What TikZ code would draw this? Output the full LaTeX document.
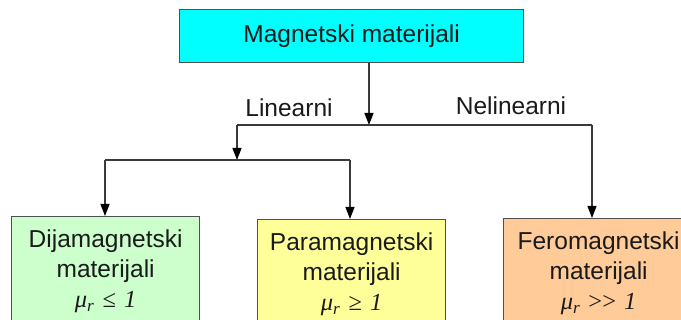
\documentclass[tikz,border=0pt]{standalone}
\usepackage{fontspec}
\setmainfont{Liberation Sans}
\newfontfamily\tms{Liberation Serif}
\usetikzlibrary{arrows.meta}
\definecolor{topcyan}{HTML}{00FFFF}
\definecolor{diagreen}{HTML}{CCFFCC}
\definecolor{parayellow}{HTML}{FFFF99}
\definecolor{feroorange}{HTML}{FFCC99}
\definecolor{boxline}{HTML}{505050}
\definecolor{conline}{HTML}{3A3A3A}
\definecolor{txt}{HTML}{1A1A1A}
\begin{document}
\begin{tikzpicture}[x=1pt,y=-1pt,
  box/.style={draw=boxline, line width=1.3pt, rectangle, align=center, text=txt,
    font=\fontsize{24.5}{30}\selectfont, anchor=north west},
  lowbox/.style={box, inner xsep=0pt, inner ysep=13pt},
  conn/.style={draw=conline, line width=1.3pt},
  arr/.style={conn, -{Triangle[length=12pt,width=9pt,color=black]}},
  lbl/.style={font=\fontsize{24.5}{30}\selectfont, inner sep=0pt, text=txt, anchor=base}
]
\useasboundingbox (0,0) rectangle (681,320);
\clip (0,0) rectangle (681,320);
\fill[white] (0,0) rectangle (681,320);

\node[box, fill=topcyan, minimum width=344pt, minimum height=53pt, inner sep=0pt] (magn) at (179,9) {Magnetski materijali};

\node[lowbox, fill=diagreen, text width=188pt] (dia) at (11,216)
  {Dijamagnetski\\materijali\\{\tms\itshape μ\textsubscript{r} \upshape≤ \itshape 1}};
\node[lowbox, fill=parayellow, text width=188pt] (para) at (257,219)
  {Paramagnetski\\materijali\\{\tms\itshape μ\textsubscript{r} \upshape≥ \itshape 1}};
\node[lowbox, fill=feroorange, text width=190pt] (fero) at (503,218)
  {Feromagnetski\\materijali\\{\tms\itshape μ\textsubscript{r} \upshape>> \itshape 1}};

\coordinate (s1) at (369,125);
\coordinate (lin) at (237,125);
\coordinate (nel) at (592,125);
\coordinate (s2) at (237,160);
\coordinate (dl) at (105,160);
\coordinate (dr) at (350,160);

\draw[arr] (magn.south -| s1) -- (s1);
\draw[conn] (lin) -- (nel);
\draw[arr] (nel) -- (nel |- fero.north);
\draw[arr] (lin) -- (s2);
\draw[conn] (dl) -- (dr);
\draw[arr] (dl) -- (dl |- dia.north);
\draw[arr] (dr) -- (dr |- para.north);

\node[lbl] (linlbl) at (289,117) {Linearni};
\node[lbl] (nellbl) at (511,115) {Nelinearni};
\end{tikzpicture}
\end{document}
